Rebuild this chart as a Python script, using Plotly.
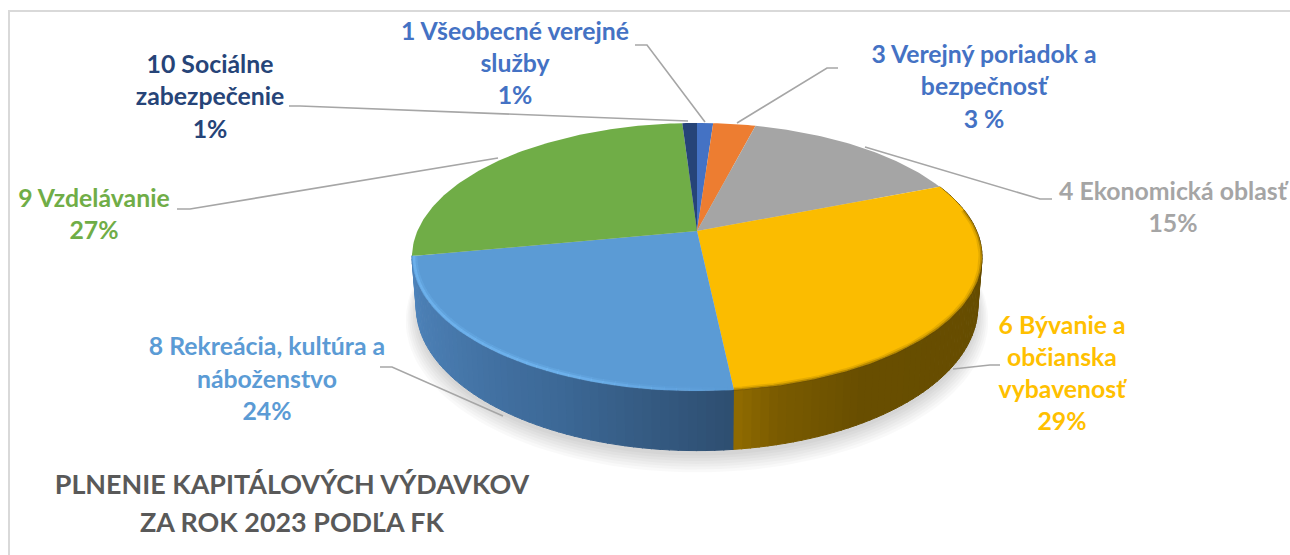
import numpy as np
import plotly.graph_objects as go

# ---- data ----
categories = ["1 Všeobecné verejné služby", "3 Verejný poriadok a bezpečnosť", "4 Ekonomická oblasť",
              "6 Bývanie a občianska vybavenosť", "8 Rekreácia, kultúra a náboženstvo",
              "9 Vzdelávanie", "10 Sociálne zabezpečenie"]
values = [1.1, 2.9, 15, 29.3, 23.7, 27, 1]
label_lines = [["1 Všeobecné verejné", "služby", "1%"],
               ["3 Verejný poriadok a", "bezpečnosť", "3 %"],
               ["4 Ekonomická oblasť", "15%"],
               ["6 Bývanie a", "občianska", "vybavenosť", "29%"],
               ["8 Rekreácia, kultúra a", "náboženstvo", "24%"],
               ["9 Vzdelávanie", "27%"],
               ["10 Sociálne", "zabezpečenie", "1%"]]
title_lines = ["PLNENIE KAPITÁLOVÝCH VÝDAVKOV", "ZA ROK 2023 PODĽA FK"]

# ---- styles and layout ----
slice_colors = ["#4472C4", "#ED7D31", "#A5A5A5", "#FBBC00", "#5B9BD5", "#70AD47", "#264478"]
label_colors = ["#4472C4", "#4472C4", "#A5A5A5", "#FFC000", "#5B9BD5", "#70AD47", "#264478"]
wall_stops = {3: [(0.0, (100, 75, 0)), (0.78, (104, 78, 0)), (0.93, (122, 91, 0)), (1.0, (145, 108, 0))],
              4: [(0.0, (46, 78, 112)), (0.35, (60, 104, 150)), (0.7, (72, 122, 174)), (1.0, (78, 132, 188))]}
label_x = [515, 984, 1173, 1062, 267, 94, 210]
label_y = [[34, 66, 98], [57, 89, 122], [194, 226], [328, 360, 392, 424], [349, 382, 414], [201, 233], [67, 99, 132]]
leaders = [[(635, 45), (647, 45), (705, 122)],
           [(838, 68), (827, 68), (737, 123)],
           [(1052, 199), (1040, 199), (865, 147)],
           [(1000, 365), (990, 365), (953, 369)],
           [(380, 367), (392, 367), (503, 416)],
           [(177, 209), (190, 209), (498, 158)],
           [(289, 106), (300, 106), (688, 121)]]
CX, CY, A, K, P, DEPTH = 697, 231, 279.6, 129, 0.194, 48
FONT = "Lato"
LABEL_SIZE = 24.8
TITLE_SIZE = 26.9


def project(theta_deg, r=1.0, drop=0.0, shrink=1.0):
    t = np.radians(theta_deg)
    X, Y = r * np.sin(t), r * np.cos(t)
    d = 1 + P * Y
    return CX + shrink * A * X / d, CY - K * Y / d + drop / d


def lerp_color(stops, f):
    for (f0, c0), (f1, c1) in zip(stops, stops[1:]):
        if f <= f1:
            u = (f - f0) / (f1 - f0)
            return "rgb(%d,%d,%d)" % tuple(round(a + (b - a) * u) for a, b in zip(c0, c1))
    return "rgb(%d,%d,%d)" % stops[-1][1]


share = np.array(values, dtype=float) / sum(values) * 360
edges = np.concatenate([[0], np.cumsum(share)])
fig = go.Figure()


def poly(x, y, color, line=None):
    fig.add_trace(go.Scatter(x=list(x), y=list(y), mode="lines", fill="toself", fillcolor=color,
                             line=dict(color=line or color, width=1 if line else 0),
                             hoverinfo="skip", showlegend=False))


# soft shadow under the disc
all_t = np.linspace(0, 360, 181)
for i in range(7):
    sx, sy = project(all_t, r=1.0 + 0.006 * i, drop=DEPTH + 4 + i * 1.2, shrink=0.985)
    poly(sx, sy, "rgba(0,0,0,0.022)")

# side wall, front part of the two front slices
for idx in (3, 4):
    a0, a1 = edges[idx], edges[idx + 1]
    n = int((a1 - a0) / 1.5)
    cuts = np.linspace(a0, a1, n + 1)
    for j in range(n):
        col = lerp_color(wall_stops[idx], (j + 0.5) / n)
        t = np.linspace(cuts[j], cuts[j + 1] + 0.2, 4)
        xt, yt = project(t)
        xb, yb = project(t, drop=DEPTH, shrink=0.985)
        poly(np.r_[xt, xb[::-1]], np.r_[yt, yb[::-1]], col, line=col)

# top face
for i in range(len(values)):
    t = np.linspace(edges[i], edges[i + 1], max(3, int(share[i]) + 2))
    xs, ys = project(t)
    poly(np.r_[CX, xs, CX], np.r_[CY, ys, CY], slice_colors[i])

# soft bevel along the front rim
yellow_bevel = [("rgba(100,75,0,0.15)", 4, 0.995), ("rgba(100,75,0,0.35)", 2, 0.998)]
t = np.linspace(edges[3] + 12, edges[4], 70)
for col, w, r in yellow_bevel:
    xs, ys = project(t, r=r)
    fig.add_trace(go.Scatter(x=xs, y=ys, mode="lines", line=dict(color=col, width=w),
                             hoverinfo="skip", showlegend=False))
# the blue highlight fades out towards the front edge of its slice
seg = np.linspace(edges[4] + 1, edges[5], 41)
for j in range(40):
    fade = min(1.0, (j + 1) / 14)
    t = np.linspace(seg[j], seg[j + 1] + 0.15, 4)
    for alpha, w, r in ((0.22, 5, 0.99), (0.5, 2.5, 0.993)):
        xs, ys = project(t, r=r)
        fig.add_trace(go.Scatter(x=xs, y=ys, mode="lines",
                                 line=dict(color="rgba(120,190,250,%.3f)" % (alpha * fade), width=w),
                                 hoverinfo="skip", showlegend=False))

# leader lines
for pts in leaders:
    fig.add_trace(go.Scatter(x=[p[0] for p in pts], y=[p[1] for p in pts], mode="lines",
                             line=dict(color="#A6A6A6", width=1.6), hoverinfo="skip", showlegend=False))

# labels, one text mark per line
for lines, x, ys, col in zip(label_lines, label_x, label_y, label_colors):
    fig.add_trace(go.Scatter(x=[x] * len(lines), y=ys, mode="text", text=lines, textposition="middle center",
                             textfont=dict(family=FONT, size=LABEL_SIZE, color=col, weight=700),
                             hoverinfo="skip", showlegend=False))
fig.add_trace(go.Scatter(x=[292, 292], y=[487, 525], mode="text", text=title_lines, textposition="middle center",
                         textfont=dict(family=FONT, size=TITLE_SIZE, color="#595959", weight=700),
                         hoverinfo="skip", showlegend=False))

fig.update_layout(
    width=1290, height=555, autosize=False, margin=dict(l=0, r=0, t=0, b=0),
    paper_bgcolor="white", plot_bgcolor="white",
    xaxis=dict(range=[0, 1290], visible=False, fixedrange=True),
    yaxis=dict(range=[555, 0], visible=False, fixedrange=True),
    shapes=[dict(type="line", xref="paper", yref="paper", x0=9 / 1290, x1=9 / 1290, y0=0, y1=1 - 10 / 555,
                 line=dict(color="#D9D9D9", width=2)),
            dict(type="line", xref="paper", yref="paper", x0=9 / 1290, x1=1, y0=1 - 11 / 555, y1=1 - 11 / 555,
                 line=dict(color="#D9D9D9", width=2))],
)
fig.write_html("out.html", post_script="document.body.style.margin='0';document.body.style.overflow='hidden';",
               config=dict(displayModeBar=False))
